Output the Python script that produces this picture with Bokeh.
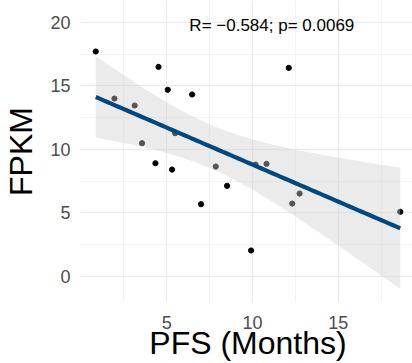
import numpy as np
from bokeh.plotting import figure
from bokeh.models import FixedTicker, Range1d, Label
from bokeh.embed import file_html
from bokeh.resources import INLINE

# data
pfs = [0.86, 1.95, 3.13, 3.56, 4.34, 4.52, 5.06, 5.31, 5.49, 6.48,
       7.00, 7.86, 8.52, 9.92, 10.18, 10.82, 12.12, 12.32, 12.75, 18.62]
fpkm = [17.72, 14.01, 13.46, 10.49, 8.91, 16.51, 14.70, 8.41, 11.28, 14.33,
        5.68, 8.65, 7.13, 2.03, 8.80, 8.86, 16.43, 5.73, 6.52, 5.08]
x_ticks = [5, 10, 15]
x_minor = [2.5, 7.5, 12.5, 17.5]
y_ticks = [0, 5, 10, 15, 20]
y_minor = [2.5, 7.5, 12.5, 17.5]
annotation = "R= \u22120.584; p= 0.0069"

# linear model fit with 95% confidence band (as geom_smooth(method="lm"))
x = np.array(pfs)
y = np.array(fpkm)
n = len(x)
slope, intercept = np.polyfit(x, y, 1)
resid = y - (slope * x + intercept)
s = np.sqrt(np.sum(resid ** 2) / (n - 2))
sxx = np.sum((x - x.mean()) ** 2)
t_crit = 2.1009  # t(0.975, df=18)
xs = np.linspace(x.min(), x.max(), 80)
fit = slope * xs + intercept
se = s * np.sqrt(1.0 / n + (xs - x.mean()) ** 2 / sxx)
lower = fit - t_crit * se
upper = fit + t_crit * se

FONT = "Liberation Sans"

p = figure(frame_width=335, frame_height=302,
           min_border_left=77, min_border_bottom=61,
           min_border_top=0, min_border_right=0,
           x_range=Range1d(-0.03, 19.51), y_range=Range1d(-2.07, 21.74),
           output_backend="svg", toolbar_location=None)
p.outline_line_color = None
p.background_fill_color = "white"
p.border_fill_color = "white"

p.scatter(pfs, fpkm, marker="circle", size=5.2, color="black")
p.varea(x=xs, y1=lower, y2=upper, fill_color="#cfcfcf", fill_alpha=0.41)
p.line(xs, fit, line_color="#03477f", line_width=4.2)

p.add_layout(Label(x=11.13, y=19.77, text=annotation, text_align="center",
                   text_baseline="middle", text_font=FONT,
                   text_font_size="17px", text_color="black"))

p.xaxis.ticker = FixedTicker(ticks=x_ticks, minor_ticks=x_minor)
p.yaxis.ticker = FixedTicker(ticks=y_ticks, minor_ticks=y_minor)
p.xaxis.axis_label = "PFS (Months)"
p.yaxis.axis_label = "FPKM"

for ax in (p.xaxis, p.yaxis):
    ax.axis_line_color = None
    ax.major_tick_line_color = None
    ax.minor_tick_line_color = None
    ax.major_label_text_font = FONT
    ax.major_label_text_font_size = "18px"
    ax.major_label_text_color = "#4d4d4d"
    ax.axis_label_text_font = FONT
    ax.axis_label_text_font_size = "32px"
    ax.axis_label_text_font_style = "normal"
    ax.axis_label_text_color = "black"

p.yaxis.major_label_standoff = 4
p.yaxis.axis_label_standoff = 8
p.xaxis.major_label_standoff = 7
p.xaxis.axis_label_standoff = -7

for g in (p.xgrid, p.ygrid):
    g.grid_line_color = "#ebebeb"
    g.grid_line_width = 1.1
    g.minor_grid_line_color = "#ebebeb"
    g.minor_grid_line_width = 0.6

open("out.html", "w").write(file_html(p, INLINE))
